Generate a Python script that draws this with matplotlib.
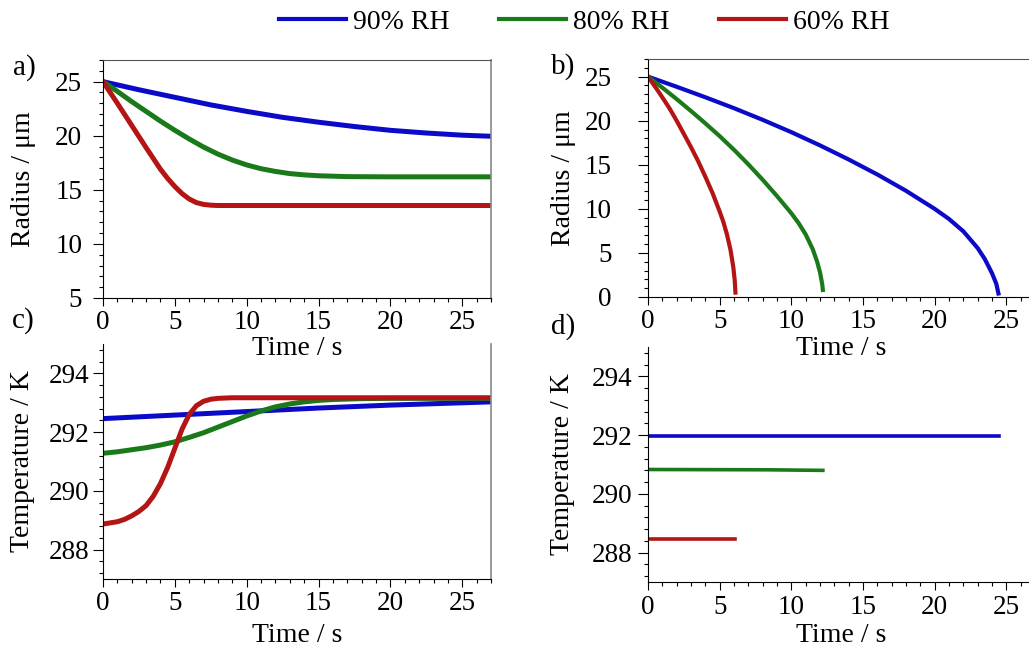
import matplotlib
matplotlib.use("Agg")
import matplotlib.pyplot as plt
from matplotlib.ticker import MultipleLocator

plt.rcParams['font.family'] = ['Liberation Serif', 'DejaVu Serif']

W, H = 1029, 649

labels = ['90% RH', '80% RH', '60% RH']
colors = ['#0a0ac8', '#1a7a1a', '#b41414']

# a) radius, with salt
t_a = [
    [0, 2.5, 5, 7.5, 10, 12.5, 15, 17.5, 20, 22.5, 25, 27],
    [0, 1, 2, 3, 4, 5, 6, 7, 8, 9, 10, 11, 12, 13, 14, 15, 17, 20, 27],
    [0, 1, 2, 3, 3.5, 4, 4.5, 5, 5.5, 6, 6.5, 7, 7.5, 8, 9, 27],
]
r_a = [
    [25, 24.25, 23.55, 22.85, 22.25, 21.7, 21.25, 20.85, 20.5, 20.25, 20.05, 19.95],
    [25, 24.1, 23.15, 22.25, 21.35, 20.5, 19.7, 18.95, 18.3, 17.75, 17.3, 16.95, 16.7,
     16.5, 16.38, 16.3, 16.22, 16.2, 16.2],
    [25, 23.0, 20.95, 18.9, 17.9, 16.9, 16.05, 15.3, 14.65, 14.15, 13.82, 13.65, 13.58,
     13.55, 13.55, 13.55],
]

# b) radius, pure water
t_b = [
    [0, 2, 4, 6, 8, 10, 12, 14, 16, 18, 20, 21, 22, 23, 23.5, 24, 24.3, 24.45],
    [0, 1, 2, 3, 4, 5, 6, 7, 8, 9, 10, 10.5, 11, 11.5, 11.8, 12, 12.15, 12.2],
    [0, 0.5, 1, 1.5, 2, 2.5, 3, 3.5, 4, 4.5, 5, 5.25, 5.5, 5.75, 5.95, 6.05, 6.1],
]
r_b = [
    [25, 23.85, 22.66, 21.42, 20.1, 18.7, 17.2, 15.6, 13.9, 12.05, 10.0, 8.85, 7.45,
     5.55, 4.3, 2.7, 1.5, 0.4],
    [25, 23.75, 22.45, 21.1, 19.7, 18.25, 16.7, 15.05, 13.3, 11.45, 9.5, 8.4, 7.1,
     5.4, 4.0, 2.8, 1.5, 0.8],
    [25, 23.85, 22.65, 21.4, 20.0, 18.5, 17.0, 15.4, 13.65, 11.8, 9.7, 8.55, 7.15, 5.4,
     3.4, 1.9, 0.5],
]

# c) temperature, with salt
t_c = [
    [0, 5, 10, 15, 20, 27],
    [0, 1, 2, 3, 4, 5, 6, 7, 8, 9, 10, 11, 12, 13, 14, 15, 16, 18, 20, 27],
    [0, 1, 1.5, 2, 2.5, 3, 3.5, 4, 4.5, 5, 5.5, 6, 6.5, 7, 7.5, 8, 9, 27],
]
T_c = [
    [292.46, 292.58, 292.7, 292.82, 292.92, 293.03],
    [291.28, 291.33, 291.4, 291.47, 291.56, 291.67, 291.82, 291.98, 292.17, 292.36,
     292.55, 292.72, 292.86, 292.96, 293.03, 293.08, 293.11, 293.14, 293.15, 293.15],
    [288.87, 288.95, 289.03, 289.15, 289.3, 289.5, 289.82, 290.25, 290.8, 291.45, 292.1,
     292.6, 292.9, 293.05, 293.12, 293.15, 293.17, 293.17],
]

# d) temperature, pure water
t_d = [
    [0, 24.5],
    [0, 8.3, 12.2],
    [0, 6.1],
]
T_d = [
    [291.98, 291.98],
    [290.83, 290.82, 290.80],
    [288.46, 288.46],
]


def px_axes(fig, left, top, right, bottom):
    ax = fig.add_axes([left / W, 1 - bottom / H, (right - left) / W, (bottom - top) / H])
    ax.patch.set_alpha(0)
    return ax


def style(ax, ylim, ymaj, ymin, ylabel, top_on, ypad):
    ax.set_xlim(0, 27)
    ax.set_ylim(*ylim)
    ax.xaxis.set_major_locator(MultipleLocator(5))
    ax.xaxis.set_minor_locator(MultipleLocator(1))
    ax.yaxis.set_major_locator(MultipleLocator(ymaj))
    ax.yaxis.set_minor_locator(MultipleLocator(ymin))
    ax.tick_params(which='major', direction='out', length=6, width=0.8, labelsize=19.5, pad=3)
    ax.tick_params(axis='y', which='major', length=7, pad=ypad)
    ax.tick_params(which='minor', direction='out', length=3, width=0.8)
    ax.spines['top'].set_visible(top_on)
    ax.spines['top'].set_color('#555555')
    ax.spines['right'].set_color('#888888')
    ax.spines['right'].set_linewidth(1.2)
    ax.set_xlabel('Time / s', fontsize=20)
    ax.set_ylabel(ylabel, fontsize=20)


fig = plt.figure(figsize=(W / 100, H / 100), dpi=100)

ax_a = px_axes(fig, 103, 60, 491, 298)
ax_b = px_axes(fig, 648, 59, 1035, 297)
ax_c = px_axes(fig, 103, 344, 491, 579)
ax_d = px_axes(fig, 648, 347, 1035, 582)

for i in range(3):
    ax_a.plot(t_a[i], r_a[i], color=colors[i], lw=3.6, label=labels[i])
    ax_b.plot(t_b[i], r_b[i], color=colors[i], lw=3.0)
    ax_c.plot(t_c[i], T_c[i], color=colors[i], lw=3.6)
    ax_d.plot(t_d[i], T_d[i], color=colors[i], lw=2.6)

style(ax_a, (5, 27), 5, 1, 'Radius / μm', True, 8)
style(ax_b, (0, 27), 5, 1, 'Radius / μm', True, 19)
style(ax_c, (287, 295), 2, 0.4, 'Temperature / K', False, 3)
style(ax_d, (287, 295), 2, 0.4, 'Temperature / K', False, 4.5)

# ylabel right edge / xlabel top, in figure pixels
for ax, xr, ytop in [(ax_a, 36, 336), (ax_b, 576, 336), (ax_c, 35, 623), (ax_d, 575, 623)]:
    pos = ax.get_position()
    ax.yaxis.set_label_coords(xr / W, pos.y0 + pos.height / 2, transform=fig.transFigure)
    ax.xaxis.set_label_coords(pos.x0 + pos.width / 2, 1 - ytop / H, transform=fig.transFigure)

for txt, x, y in [('a)', 13, 68), ('b)', 551, 67), ('c)', 12, 321), ('d)', 551, 327)]:
    fig.text(x / W, 1 - y / H, txt, fontsize=21, ha='left', va='center')

fig.legend(loc='center', bbox_to_anchor=(584 / W, 1 - 22 / H), ncol=3, frameon=False,
           fontsize=20, handlelength=2.4, handletextpad=0.25, columnspacing=1.8)
for line in fig.legends[0].get_lines():
    line.set_linewidth(3.0)

fig.savefig('out.png', dpi=100)
